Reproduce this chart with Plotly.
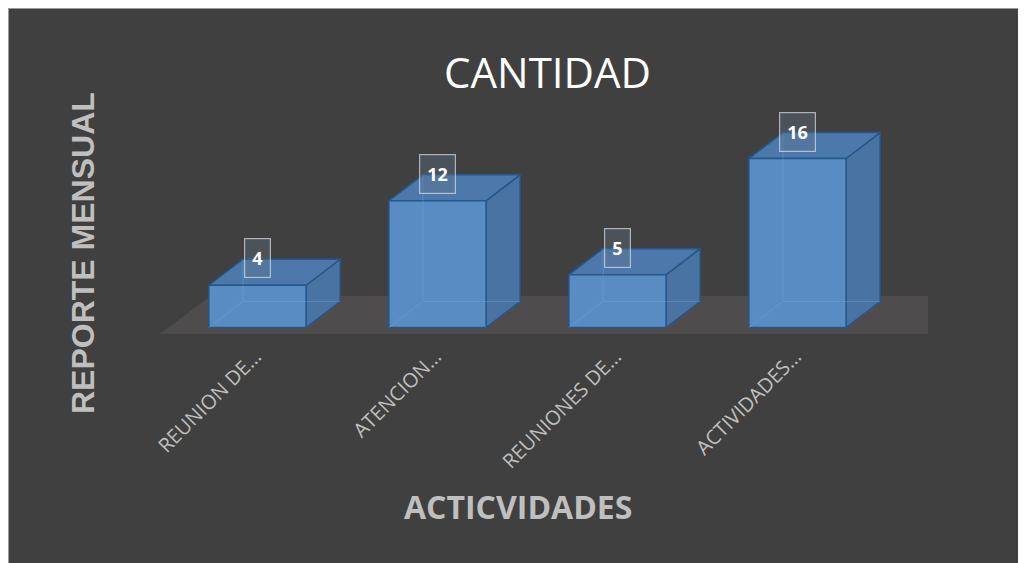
import plotly.graph_objects as go

# ---- data ----
categories = ["REUNION DE…", "ATENCION…", "REUNIONES DE…", "ACTIVIDADES…"]
values = [4, 12, 5, 16]
title_text = "CANTIDAD"
y_title = "REPORTE MENSUAL"
x_title = "ACTICVIDADES"

# ---- geometry / style ----
W, H = 1026, 563
OFF = 8  # page body margin
L, T = 152, 92
PW, PH = 768, 240
R, B = W - L - PW, H - T - PH
XMIN, XMAX = -0.5417, 3.725
YMIN, YMAX = -1.184, 21.54
BAR_W = 0.54
DX = 0.189   # depth offset in x units
DY = 2.46    # depth offset in y units

BG = "#404040"
FLOOR = "#4e4c4d"
FRONT = "rgba(90,142,198,0.97)"
SIDE = "rgba(72,117,165,0.97)"
TOP = "rgba(76,122,174,0.97)"
EDGE = "#26578a"
TXT = "#bfbfbf"


def pxx(px):
    return (px - OFF - L) / PW


def pxy(py):
    return (T + PH - (py - OFF)) / PH


fig = go.Figure()


def poly(xs, ys, fill, line_color=EDGE, width=1.5):
    fig.add_trace(go.Scatter(
        x=xs + [xs[0]], y=ys + [ys[0]], mode="lines", fill="toself",
        fillcolor=fill, line=dict(color=line_color, width=width),
        hoverinfo="skip", showlegend=False))


n = len(categories)
# floor
fy0 = -0.62
fx1 = n - 1 + 0.5417 + 0.181
fig.add_trace(go.Scatter(
    x=[XMIN, fx1, fx1 + 0.28, XMIN + 0.28, XMIN],
    y=[fy0, fy0, fy0 + 3.6, fy0 + 3.6, fy0],
    mode="lines", fill="toself", fillcolor=FLOOR, line=dict(width=0),
    hoverinfo="skip", showlegend=False))

for i, v in enumerate(values):
    x0, x1 = i - BAR_W / 2, i + BAR_W / 2
    poly([x1, x1 + DX, x1 + DX, x1], [0, DY, v + DY, v], SIDE)
    poly([x0, x1, x1 + DX, x0 + DX], [v, v, v + DY, v + DY], TOP)
    poly([x0, x1, x1, x0], [0, 0, v, v], FRONT)
    fig.add_trace(go.Scatter(
        x=[x0, x0 + DX, x1 + DX, None, x0 + DX, x0 + DX],
        y=[0, DY, DY, None, DY, v + DY], mode="lines",
        line=dict(color="rgba(120,170,220,0.35)", width=1),
        hoverinfo="skip", showlegend=False))
    fig.add_annotation(
        x=i, y=v, xref="x", yref="y", text=f"<b>{v}</b>", showarrow=False,
        yanchor="bottom", yshift=7,
        font=dict(family="Open Sans", size=18, color="white"),
        bgcolor="rgba(100,118,138,0.35)", bordercolor="rgba(220,225,230,0.7)",
        borderwidth=1.2, borderpad=7)

shapes = [
    dict(type="line", xref="paper", yref="paper",
         x0=pxx(OFF), x1=pxx(W + OFF), y0=pxy(OFF), y1=pxy(OFF),
         line=dict(color="#9a9a9a", width=2)),
    dict(type="line", xref="paper", yref="paper",
         x0=pxx(OFF), x1=pxx(OFF), y0=pxy(OFF), y1=pxy(H + OFF),
         line=dict(color="#9a9a9a", width=2)),
]

fig.add_annotation(x=pxx(547), y=pxy(71), xref="paper", yref="paper",
                   xanchor="center", yanchor="middle",
                   text=title_text, showarrow=False,
                   font=dict(family="Open Sans", size=42, color="white"))
fig.add_annotation(x=pxx(83), y=pxy(253), xref="paper", yref="paper",
                   xanchor="center", yanchor="middle",
                   text=f"<b>{y_title}</b>", showarrow=False, textangle=-90,
                   font=dict(family="Liberation Sans", size=32, color=TXT))
fig.add_annotation(x=pxx(518), y=pxy(506), xref="paper", yref="paper",
                   xanchor="center", yanchor="middle",
                   text=f"<b>{x_title}</b>", showarrow=False,
                   font=dict(family="Open Sans", size=32, color=TXT))

fig.update_layout(
    width=W, height=H, margin=dict(l=L, r=R, t=T, b=B),
    paper_bgcolor=BG, plot_bgcolor="rgba(0,0,0,0)",
    shapes=shapes, showlegend=False,
    xaxis=dict(range=[XMIN, XMAX], tickmode="array",
               tickvals=list(range(n)), ticktext=categories,
               tickangle=-45, showgrid=False, zeroline=False, showline=False,
               ticks="", ticklabelshift=-2,
               tickfont=dict(family="Open Sans", size=20, color=TXT)),
    yaxis=dict(range=[YMIN, YMAX], showgrid=False, zeroline=False,
               showline=False, showticklabels=False, ticks=""),
)

fig.write_html("out.html")
